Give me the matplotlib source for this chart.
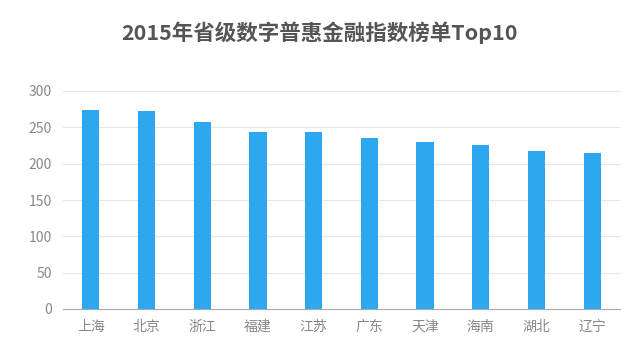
import matplotlib.pyplot as plt
import numpy as np

plt.rcParams['font.family'] = ['Noto Sans CJK SC', 'DejaVu Sans']

# Data
provinces = ['上海', '北京', '浙江', '福建', '江苏', '广东', '天津', '海南', '湖北', '辽宁']
index_values = [274, 272, 257, 243, 243, 236, 230, 226, 217, 215]
y_ticks = [0, 50, 100, 150, 200, 250, 300]

fig = plt.figure(figsize=(6.39, 3.64), dpi=100)
ax = fig.add_axes([63 / 639, 55 / 364, 557 / 639, 218 / 364])

x = np.arange(len(provinces))
ax.bar(x, index_values, width=0.31, color='#2DA8F0', zorder=3)

ax.set_xlim(-0.5, len(provinces) - 0.5)
ax.set_ylim(0, 300)
ax.set_yticks(y_ticks)
ax.set_xticks(x)
ax.set_xticklabels(provinces)
ax.tick_params(axis='both', length=0, labelsize=10, colors='#888888')
ax.tick_params(axis='x', pad=8)
ax.tick_params(axis='y', pad=8)

ax.grid(axis='y', color='#e6e6e6', linewidth=0.8, zorder=0)
for side in ['top', 'right', 'left']:
    ax.spines[side].set_visible(False)
ax.spines['bottom'].set_color('#aaaaaa')
ax.spines['bottom'].set_linewidth(0.8)

fig.text(0.5, 1 - 33 / 364, '2015年省级数字普惠金融指数榜单Top10', ha='center', va='center',
         fontsize=15.5, fontweight='bold', color='#555555')

fig.savefig('out.png', dpi=100, facecolor='white')
